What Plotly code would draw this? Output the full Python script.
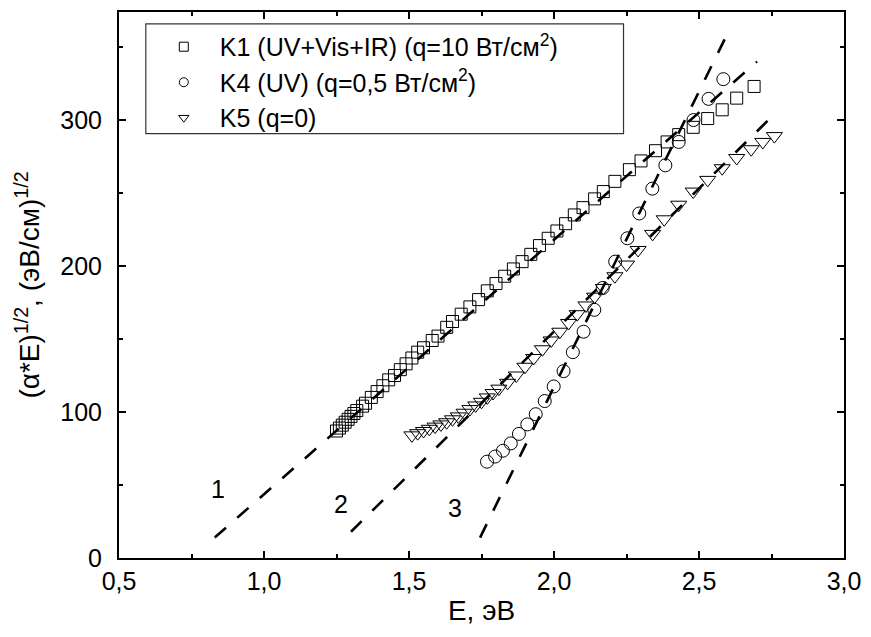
import plotly.graph_objects as go

# ---- data ----
k1_E = [1.25, 1.26, 1.27, 1.28, 1.29, 1.30, 1.31, 1.32, 1.34, 1.35, 1.37, 1.39, 1.41, 1.43,
        1.45, 1.47, 1.49, 1.51, 1.53, 1.55, 1.58, 1.60, 1.63, 1.65, 1.68, 1.71, 1.74, 1.77,
        1.80, 1.83, 1.86, 1.89, 1.92, 1.95, 1.98, 2.01, 2.04, 2.07, 2.10, 2.14, 2.17, 2.21,
        2.26, 2.30, 2.35, 2.39, 2.43, 2.48, 2.53, 2.58, 2.63, 2.69]
k1_v = [87, 89, 91, 93, 95, 97, 99, 101, 104, 106, 110, 114, 118, 122,
        125, 129, 133, 137, 141, 144, 149, 152, 158, 162, 167, 172, 177, 183,
        188, 193, 198, 203, 208, 214, 219, 224, 229, 235, 240, 246, 251, 258,
        266, 272, 279, 285, 290, 295, 301, 307, 315, 323]

k4_E = [1.769, 1.797, 1.824, 1.851, 1.879, 1.908, 1.937, 1.968, 1.999, 2.033, 2.065, 2.102,
        2.139, 2.168, 2.211, 2.253, 2.294, 2.339, 2.384, 2.430, 2.481, 2.533, 2.584]
k4_v = [66, 69.5, 73.5, 78.5, 85, 91.5, 98.5, 107.5, 117.5, 128, 141, 155,
        170, 185, 203, 219, 236, 253, 269, 285, 300, 314.5, 328]

k5_E = [1.51, 1.53, 1.55, 1.57, 1.59, 1.61, 1.63, 1.65, 1.67, 1.69, 1.71, 1.73, 1.75, 1.77,
        1.79, 1.81, 1.84, 1.87, 1.90, 1.93, 1.96, 1.99, 2.02, 2.05, 2.08, 2.11, 2.14, 2.17,
        2.21, 2.25, 2.29, 2.34, 2.38, 2.43, 2.48, 2.53, 2.58, 2.63, 2.68, 2.72, 2.76]
k5_v = [84, 85.5, 87, 88.5, 90, 91.5, 93, 95, 97, 99.5, 102, 104.5, 107, 110,
        113, 116, 120, 125, 131, 137, 143, 149, 155, 161, 167, 173, 179, 185,
        193, 201, 211, 222, 232, 242, 251, 259, 267, 274, 280, 285, 289]

# linear fits (dashed lines), end points
fit1_E = [0.83, 2.70]
fit1_v = [14, 340]
fit2_E = [1.30, 2.77]
fit2_v = [18, 306]
fit3_E = [1.745, 2.60]
fit3_v = [14, 360]

fit_labels = ["1", "2", "3"]
fit_label_E = [0.84, 1.267, 1.66]
fit_label_v = [47, 37, 34]

series_names = ["K1 (UV+Vis+IR) (q=10 Вт/см<sup>2</sup>)",
                "K4 (UV) (q=0,5 Вт/см<sup>2</sup>)",
                "K5 (q=0)"]

FONT = "Liberation Sans, Arial, sans-serif"

W, H = 871, 637
ML, MR, MT, MB = 119, 22, 10, 79
PW, PH = W - ML - MR, H - MT - MB


def px_x(p):
    return (p - ML) / PW


def px_y(p):
    return (H - MB - p) / PH


fig = go.Figure()

fig.add_trace(go.Scatter(x=k1_E, y=k1_v, mode="markers", showlegend=False,
                         marker=dict(symbol="square-open", size=12, color="black",
                                     line=dict(width=1, color="black"))))
fig.add_trace(go.Scatter(x=k4_E, y=k4_v, mode="markers", showlegend=False,
                         marker=dict(symbol="circle-open", size=13, color="black",
                                     line=dict(width=1, color="black"))))
fig.add_trace(go.Scatter(x=k5_E, y=k5_v, mode="markers", showlegend=False,
                         marker=dict(symbol="triangle-down-open", size=14, color="black",
                                     line=dict(width=1, color="black"))))

for fx, fy in [(fit1_E, fit1_v), (fit2_E, fit2_v), (fit3_E, fit3_v)]:
    fig.add_trace(go.Scatter(x=fx, y=fy, mode="lines", showlegend=False,
                             line=dict(color="black", width=2.6, dash="15px,15px")))

# legend entries
for name, sym in zip(series_names, ["square-open", "circle-open", "triangle-down-open"]):
    fig.add_trace(go.Scatter(x=[None], y=[None], mode="markers", name=name,
                             marker=dict(symbol=sym, size=9, color="black",
                                         line=dict(width=1, color="black"))))

for t, ex, vy in zip(fit_labels, fit_label_E, fit_label_v):
    fig.add_annotation(x=ex, y=vy, text=t, showarrow=False,
                       font=dict(family=FONT, size=25, color="black"))

# legend frame
fig.add_shape(type="rect", xref="paper", yref="paper",
              x0=px_x(146), x1=px_x(627), y0=px_y(132), y1=px_y(22),
              line=dict(color="#333333", width=1.2), fillcolor="white", layer="above")

axis_common = dict(showline=True, linecolor="black", linewidth=2, mirror="ticks",
                   ticks="inside", ticklen=7, tickwidth=2, tickcolor="black",
                   showgrid=False, zeroline=False,
                   tickfont=dict(family=FONT, size=25, color="black"))

fig.update_xaxes(range=[0.5, 3.0], tick0=0.5, dtick=0.5, tickformat=".1f",
                 minor=dict(dtick=0.25, ticks="inside", ticklen=4, tickwidth=2, tickcolor="black"),
                 title=dict(text="E, эВ", font=dict(family=FONT, size=28, color="black"), standoff=6),
                 **axis_common)
fig.update_yaxes(range=[0, 374], tick0=0, dtick=100, ticklabelstandoff=10,
                 minor=dict(dtick=50, ticks="inside", ticklen=4, tickwidth=2, tickcolor="black"),
                 title=dict(text="(α*E)<sup>1/2</sup>, (эВ/см)<sup>1/2</sup>",
                            font=dict(family=FONT, size=28, color="black"), standoff=12),
                 **axis_common)

fig.update_layout(
    width=W, height=H,
    margin=dict(l=ML, r=MR, t=MT, b=MB),
    paper_bgcolor="white", plot_bgcolor="white",
    separators=", ",
    font=dict(family=FONT, color="black"),
    legend=dict(x=px_x(148), y=px_y(22), xanchor="left", yanchor="top",
                bgcolor="rgba(0,0,0,0)", borderwidth=0,
                font=dict(family=FONT, size=25, color="black"),
                tracegroupgap=0, itemwidth=62),
)

fig.write_html("out.html", config={"displayModeBar": False},
               post_script="document.body.style.margin='0px';document.body.style.overflow='hidden';")
